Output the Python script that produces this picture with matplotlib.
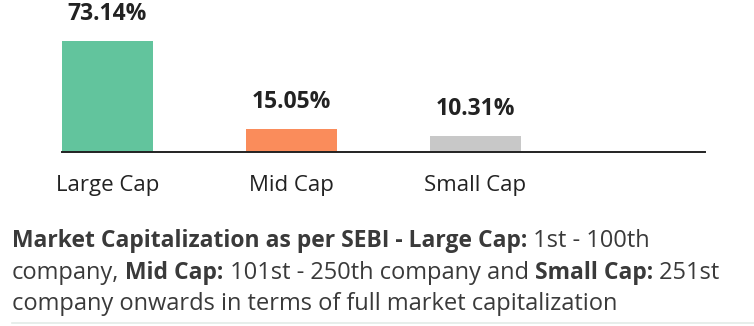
import matplotlib
matplotlib.use("Agg")
import matplotlib.pyplot as plt
from matplotlib import font_manager
from matplotlib.lines import Line2D

# chart data
categories = ["Large Cap", "Mid Cap", "Small Cap"]
shares = [73.14, 15.05, 10.31]
bar_colors = ["#62c49d", "#fa8c5b", "#c8c8c8"]

# footnote: (text, is_bold) segments per line
note_lines = [
    [("Market Capitalization as per SEBI - Large Cap:", True), (" 1st - 100th", False)],
    [("company,", False), (" Mid Cap:", True), (" 101st - 250th company and", False),
     (" Small Cap:", True), (" 251st", False)],
    [("company onwards in terms of full market capitalization", False)],
]


def pick_family(candidates):
    # first family that really ships a bold face
    for fam in candidates:
        try:
            path = font_manager.findfont(
                font_manager.FontProperties(family=fam, weight="bold"),
                fallback_to_default=False)
        except Exception:
            continue
        if "bold" in path.lower() or "black" in path.lower():
            return fam
    return "DejaVu Sans"


W, H = 754, 326
family = pick_family(["Noto Sans", "Open Sans", "Roboto", "Lato", "Liberation Sans"])
plt.rcParams['font.family'] = [family, 'DejaVu Sans']

fig = plt.figure(figsize=(W / 100, H / 100), dpi=100)
ax = fig.add_axes([62 / W, (H - 152) / H, (705 - 62) / W, 152 / H])

x = range(len(categories))
bars = ax.bar(x, shares, width=0.495, color=bar_colors, zorder=2)
ax.set_xlim(-0.2475, 3.247)
ax.set_ylim(0, 100.2)

for b, v in zip(bars, shares):
    ax.annotate(f"{v:.2f}%", xy=(b.get_x() + b.get_width() / 2, v),
                xytext=(0, 11), textcoords="offset points",
                ha="center", va="bottom", fontsize=16.5, fontweight="bold",
                color="#222222", annotation_clip=False)

ax.set_xticks(list(x))
ax.set_xticklabels(categories, fontsize=16, color="#222222")
ax.tick_params(axis="x", length=0, pad=16.5)
ax.set_yticks([])
for s in ["top", "left", "right"]:
    ax.spines[s].set_visible(False)
ax.spines["bottom"].set_color("#222222")
ax.spines["bottom"].set_linewidth(1.4)

# footnote with mixed bold text, chained segment by segment
baselines = [247, 279, 310]
for yb, segs in zip(baselines, note_lines):
    last = None
    for txt, bold in segs:
        kw = dict(fontsize=16.5 if bold else 17, color="#3a3a3a",
                  fontweight="bold" if bold else "normal")
        if last is None:
            last = fig.text(12 / W, 1 - yb / H, txt, ha="left", va="baseline", **kw)
        else:
            last = ax.annotate(txt, xy=(1, 0), xycoords=last, ha="left", va="bottom",
                               annotation_clip=False, **kw)

fig.add_artist(Line2D([12 / W, 1], [1 - 323 / H, 1 - 323 / H],
                      color="#e3ebe7", linewidth=1.2))

fig.savefig("out.png", dpi=100)
